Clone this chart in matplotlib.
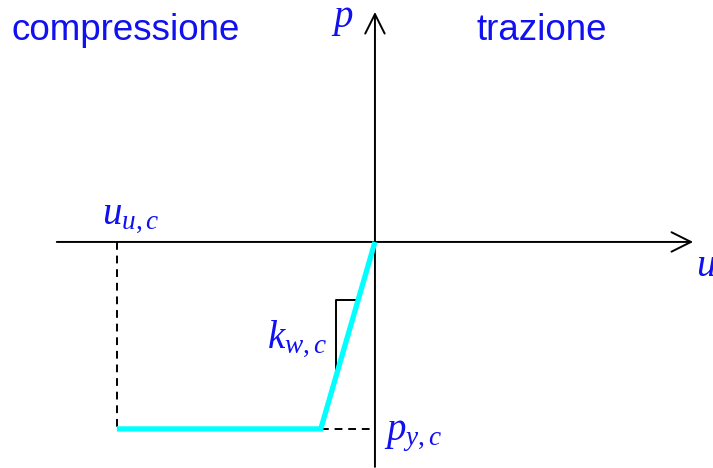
import matplotlib
matplotlib.use("Agg")
import matplotlib.pyplot as plt

plt.rcParams['mathtext.fontset'] = 'custom'
plt.rcParams['mathtext.rm'] = 'Liberation Serif'
plt.rcParams['mathtext.it'] = 'Liberation Serif:italic'

# legame costitutivo (valori normalizzati)
u_curve = [-1.0, -0.21, 0.0]   # u_u,c , u_y,c , origine
p_curve = [-1.0, -1.0, 0.0]    # p_y,c , p_y,c , origine
u_uc = u_curve[0]
p_yc = p_curve[0]

# estremi del triangolo di pendenza (lungo il ramo elastico)
p_tri = [-0.31, -0.711]

blue = '#1010f0'
cyan = '#00ffff'

fig = plt.figure(figsize=(7.13, 4.68), dpi=100)
ax = fig.add_axes([0, 0, 1, 1])
ax.set_xlim(-1.453, 1.310)
ax.set_ylim(-1.209, 1.294)
ax.axis('off')

# assi con freccia aperta
arrow = dict(arrowstyle='->,head_length=0.7,head_width=0.35', lw=1.4,
             color='black', mutation_scale=20, shrinkA=0, shrinkB=0)
ax.annotate('', xy=(1.233, 0), xytext=(-1.233, 0), arrowprops=arrow)
ax.annotate('', xy=(0, 1.23), xytext=(0, -1.203), arrowprops=arrow)

# linee di riferimento tratteggiate
ax.plot([u_uc, u_uc], [0, p_yc], color='black', lw=1.4, ls=(0, (4, 3)))
ax.plot([u_curve[1], 0], [p_yc, p_yc], color='black', lw=1.4, ls=(0, (4, 3)))

# triangolo della rigidezza k_w,c
slope = p_curve[1] / u_curve[1]
ua = p_tri[0] / slope
ub = p_tri[1] / slope
ax.plot([ub, ub, ua], [p_tri[1], p_tri[0], p_tri[0]], color='black', lw=1.4)

# curva forza-spostamento
ax.plot(u_curve, p_curve, color=cyan, lw=3.8, solid_capstyle='butt',
        solid_joinstyle='miter', zorder=3)

# testi
sans = dict(family='Liberation Sans', fontsize=26.5, color=blue,
            va='baseline', ha='left')
ax.text(-1.407, 1.080, 'compressione', **sans)
ax.text(0.395, 1.080, 'trazione', **sans)

serif = dict(fontsize=28, color=blue, va='baseline', ha='left')
ax.text(-0.172, 1.150, r'$p$', **serif)
ax.text(1.244, -0.182, r'$u$', **serif)
ax.text(-1.058, 0.102, r'$u_{u,c}$', **serif)
ax.text(-0.418, -0.562, r'$k_{w,c}$', **serif)
ax.text(0.035, -1.059, r'$p_{y,c}$', **serif)

fig.savefig('out.png', dpi=100)
